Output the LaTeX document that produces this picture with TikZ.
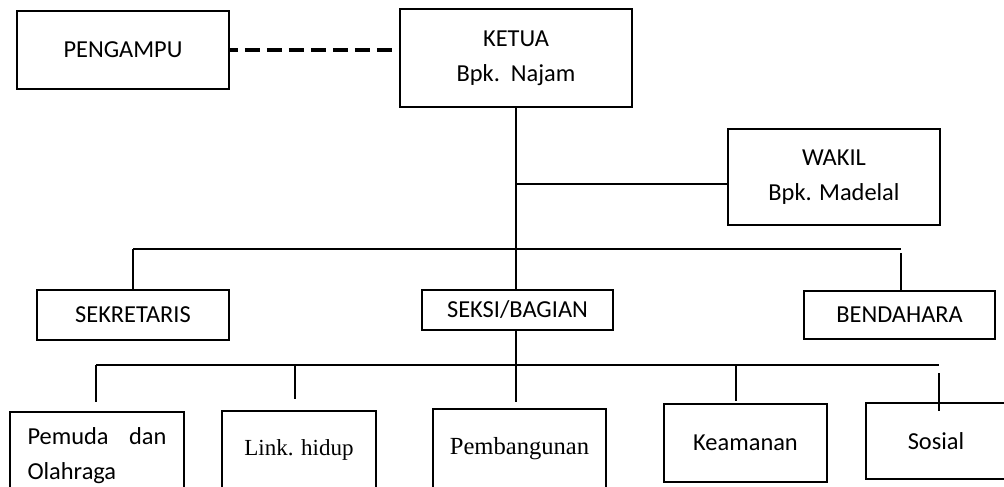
\documentclass[tikz,border=0pt]{standalone}
\usepackage{fontspec}
\setmainfont{Carlito}
\newfontfamily\timesfont{Liberation Serif}
\tikzset{
  unit/.style={draw, line width=0.75pt, inner sep=0pt, align=center,
    font=\fontsize{12.2}{17.5}\selectfont},
  serifunit/.style={unit, font=\timesfont\fontsize{11.5}{14}\selectfont},
  link/.style={line width=0.75pt},
  boldlink/.style={line width=1.3pt},
  dashlink/.style={line width=1.6pt, dash pattern=on 7.5pt off 3.5pt, dash phase=3.5pt},
}
\begin{document}
\begin{tikzpicture}[x=0.5pt,y=-0.5pt]
  \useasboundingbox (0,0) rectangle (1004,486);
  \clip (0,0) rectangle (1004,486);
  % top level
  \node[unit, minimum width=106pt, minimum height=39pt] (pengampu) at (123,50) {PENGAMPU};
  \node[unit, minimum width=116pt, minimum height=49pt] (ketua) at (516,58) {KETUA\\Bpk.\ \ Najam};
  \node[unit, minimum width=106pt, minimum height=48pt] (wakil) at (834,177) {WAKIL\\Bpk. Madelal};
  % second level
  \node[unit, minimum width=96pt, minimum height=25pt] (sekretaris) at (133,315) {SEKRETARIS};
  \node[unit, minimum width=95.5pt, minimum height=20pt] (seksi) at (517.5,310) {SEKSI/BAGIAN};
  \node[unit, minimum width=95.5pt, minimum height=24pt] (bendahara) at (899.5,315) {BENDAHARA};
  % seksi
  \node[unit, minimum width=87pt, minimum height=44pt, text width=69.5pt, align=left] (pemuda) at (97,456) {Pemuda\hfill dan\\Olahraga};
  \node[serifunit, minimum width=77pt, minimum height=39pt] (link) at (299,450) {Link. hidup};
  \node[serifunit, minimum width=86.5pt, minimum height=40pt, font=\timesfont\fontsize{12.3}{14}\selectfont] (pembangunan) at (519.5,449) {Pembangunan};
  \node[unit, minimum width=81.5pt, minimum height=39pt] (keamanan) at (745.5,443) {Keamanan};
  \node[unit, minimum width=70pt, minimum height=38pt] (sosial) at (936,441) {Sosial};
  % junctions
  \coordinate (jwakil) at (516,184);
  \coordinate (bar1) at (516,249);
  \coordinate (dpemuda) at (96,365);
  \coordinate (dlink) at (295,365);
  \coordinate (dkeamanan) at (736,365);
  \coordinate (dsosial) at (939,365);
  % connectors
  \draw[dashlink] (pengampu.east) -- (ketua.west |- pengampu.east);
  \draw[link] (ketua.south) -- (ketua.south |- seksi.north);
  \draw[boldlink] (jwakil) -- (jwakil -| wakil.west);
  \draw[link] (bar1 -| sekretaris) -- (bar1 -| 901,0);
  \draw[link] (bar1 -| sekretaris) -- (sekretaris.north);
  \draw[link, shorten <=2pt] (bar1 -| 901,0) -- (bendahara.north -| 901,0);
  \draw[link, shorten >=3pt] (ketua.south |- seksi.south) -- (ketua.south |- pembangunan.north);
  \draw[link] (dpemuda) -- (dsosial);
  \foreach \d/\b/\g in {dpemuda/pemuda/4.5pt, dlink/link/5.5pt, dkeamanan/keamanan/1pt}
    \draw[link, shorten >=\g] (\d) -- (\d |- \b.north);
  \draw[link, shorten <=4pt, shorten >=-4.5pt] (dsosial) -- (dsosial |- sosial.north);
\end{tikzpicture}
\end{document}
